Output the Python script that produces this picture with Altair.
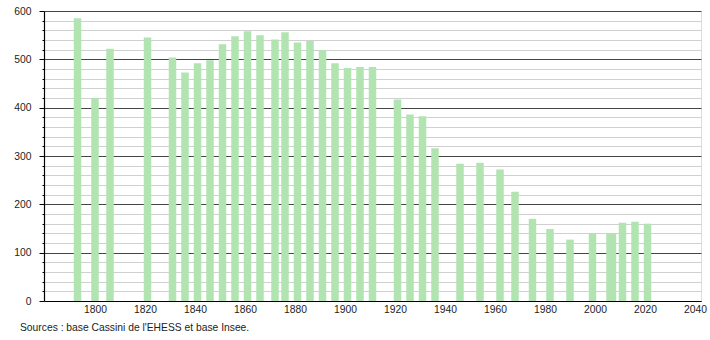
import altair as alt
import pandas as pd

years = [1793, 1800, 1806, 1821, 1831, 1836, 1841, 1846, 1851, 1856, 1861, 1866,
         1872, 1876, 1881, 1886, 1891, 1896, 1901, 1906, 1911, 1921, 1926, 1931,
         1936, 1946, 1954, 1962, 1968, 1975, 1982, 1990, 1999, 2006, 2007, 2011,
         2016, 2021]
population = [585, 420, 522, 545, 504, 473, 492, 498, 531, 548, 558, 550,
              541, 556, 535, 538, 519, 492, 482, 484, 484, 417, 386, 382,
              316, 284, 286, 272, 226, 170, 149, 127, 139, 139, 139, 162,
              164, 160]
x_ticks = list(range(1800, 2041, 20))
y_ticks = list(range(0, 601, 20))
source_text = "Sources : base Cassini de l'EHESS et base Insee."

df = pd.DataFrame({"year": years, "pop": population})

font = "Liberation Sans"
fs = 10.3

chart = alt.Chart(df).mark_bar(width=7.5, color="#b2e4b2").encode(
    x=alt.X("year:Q",
            scale=alt.Scale(domain=[1779.6, 2042.4], nice=False, zero=False, padding=0),
            axis=alt.Axis(values=x_ticks, title=None, format="d", grid=False,
                          ticks=False, labelPadding=3, labelFontSize=fs,
                          labelColor="#222", labelFont=font, domainColor="#000",
                          domainWidth=1.2, labelFlush=False)),
    y=alt.Y("pop:Q",
            scale=alt.Scale(domain=[0, 600], nice=False),
            axis=alt.Axis(values=y_ticks, title=None,
                          labelExpr="datum.value % 100 === 0 ? datum.label : ''",
                          gridColor=alt.condition("datum.value % 100 === 0",
                                                  alt.value("#444"), alt.value("#d0d0d0")),
                          tickSize=alt.condition("datum.value % 100 === 0",
                                                 alt.value(5), alt.value(2)),
                          tickColor="#000", domainColor="#000", domainWidth=1.2,
                          labelPadding=8, labelFontSize=fs, labelColor="#222",
                          labelFont=font)),
).properties(
    width=657, height=290,
    title=alt.TitleParams(source_text, orient="bottom", anchor="start", frame="group",
                          fontSize=fs, font=font, fontWeight="normal",
                          color="#222", dx=-24, offset=9),
    autosize=alt.AutoSizeParams(type="none"),
    padding={"left": 44, "top": 11, "right": 9, "bottom": 39},
).configure_view(stroke=None).configure(background="white")

chart.save("out.html", embed_options={"renderer": "svg", "actions": False})
